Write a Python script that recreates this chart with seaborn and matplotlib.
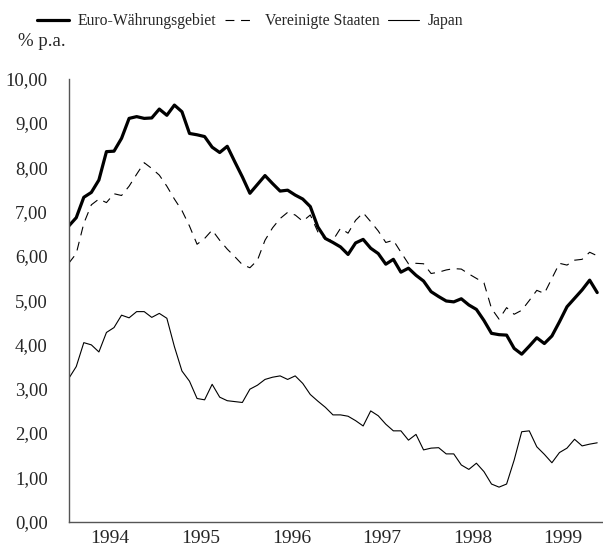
import numpy as np
import pandas as pd
import seaborn as sns
import matplotlib.pyplot as plt

# Monatswerte Jan 1994 .. Nov 1999, Rendite langfristiger Staatsanleihen in % p.a.
monate = np.arange(71)
euro = [6.67, 6.86, 7.32, 7.43, 7.71, 8.35, 8.36, 8.65, 9.10, 9.14, 9.10, 9.11,
        9.31, 9.17, 9.40, 9.25, 8.76, 8.73, 8.69, 8.45, 8.33, 8.47, 8.12, 7.78,
        7.41, 7.61, 7.81, 7.63, 7.46, 7.48, 7.37, 7.28, 7.11, 6.65, 6.39, 6.30,
        6.20, 6.03, 6.29, 6.37, 6.17, 6.05, 5.81, 5.92, 5.63, 5.72, 5.56, 5.43,
        5.19, 5.08, 4.98, 4.96, 5.03, 4.89, 4.79, 4.54, 4.25, 4.22, 4.21, 3.91,
        3.78, 3.96, 4.15, 4.02, 4.19, 4.51, 4.85, 5.04, 5.23, 5.45, 5.17]
usa = [5.83, 6.05, 6.73, 7.15, 7.28, 7.20, 7.40, 7.36, 7.57, 7.84, 8.10, 7.97,
       7.82, 7.57, 7.28, 7.02, 6.67, 6.26, 6.39, 6.58, 6.35, 6.15, 5.98, 5.80,
       5.73, 5.90, 6.35, 6.63, 6.84, 6.98, 6.92, 6.78, 6.92, 6.54, 6.37, 6.35,
       6.62, 6.51, 6.80, 6.97, 6.77, 6.56, 6.30, 6.35, 6.08, 5.82, 5.83, 5.82,
       5.60, 5.63, 5.68, 5.71, 5.70, 5.59, 5.49, 5.39, 4.81, 4.57, 4.83, 4.68,
       4.77, 4.99, 5.22, 5.15, 5.49, 5.83, 5.79, 5.90, 5.92, 6.08, 6.00]
japan = [3.23, 3.50, 4.04, 3.99, 3.83, 4.27, 4.38, 4.66, 4.60, 4.74, 4.74, 4.61,
         4.70, 4.59, 3.95, 3.40, 3.17, 2.78, 2.75, 3.10, 2.81, 2.73, 2.71, 2.69,
         2.99, 3.08, 3.21, 3.26, 3.29, 3.21, 3.29, 3.12, 2.87, 2.72, 2.58, 2.41,
         2.41, 2.38, 2.28, 2.16, 2.50, 2.39, 2.20, 2.05, 2.05, 1.84, 1.97, 1.62,
         1.66, 1.67, 1.53, 1.53, 1.28, 1.18, 1.32, 1.13, 0.85, 0.78, 0.85, 1.39,
         2.03, 2.05, 1.69, 1.52, 1.33, 1.56, 1.66, 1.86, 1.71, 1.75, 1.78]

namen = ['Euro-Währungsgebiet', 'Vereinigte Staaten', 'Japan']
jahre = ['1994', '1995', '1996', '1997', '1998', '1999']
y_werte = list(range(11))
y_labels = ['0,00', '1,00', '2,00', '3,00', '4,00', '5,00',
            '6,00', '7,00', '8,00', '9,00', '10,00']

sns.set_style('white')
plt.rcParams['font.family'] = ['Liberation Serif', 'DejaVu Serif']
plt.rcParams['font.size'] = 12.5

fig = plt.figure(figsize=(6.03, 5.47), dpi=100)
ax = fig.add_axes([68.7 / 603, 25.3 / 547, (603 - 68.7) / 603, 443.2 / 547])

df = pd.DataFrame({'monat': monate, 'euro': euro, 'usa': usa, 'japan': japan})
sns.lineplot(data=df, x='monat', y='euro', ax=ax, color='black', lw=2.3,
             label=namen[0])
sns.lineplot(data=df, x='monat', y='usa', ax=ax, color='black', lw=0.8,
             label=namen[1], linestyle=(0, (8, 6)))
sns.lineplot(data=df, x='monat', y='japan', ax=ax, color='black', lw=0.8,
             label=namen[2])

ax.set_xlim(0, (603 - 68.7) / 7.55)
ax.set_ylim(0, 10)
ax.set_xlabel('')
ax.set_ylabel('')

# Jahresstriche an den Jahresgrenzen, Beschriftung in der Mitte
ax.set_xticks([12, 24, 36, 48, 60])
ax.set_xticklabels([])
ax.set_xticks([5.5 + 12 * k for k in range(len(jahre))], minor=True)
ax.set_xticklabels(jahre, minor=True)
ax.tick_params(axis='x', which='major', direction='in', length=4, width=0.8,
               color='#555555')
ax.tick_params(axis='x', which='minor', length=0, pad=6, labelsize=14)

ax.set_yticks(y_werte)
ax.set_yticklabels(y_labels)
ax.tick_params(axis='y', direction='in', length=4, width=0.8, color='#555555',
               pad=15, labelsize=13.5)

sns.despine(ax=ax)
for s in ['left', 'bottom']:
    ax.spines[s].set_color('#555555')
    ax.spines[s].set_linewidth(1.0)

ax.get_legend().remove()
fig.legend(handles=ax.get_lines()[:3], labels=namen, loc='upper left',
           bbox_to_anchor=(31 / 603, 1 - 7 / 547), ncol=3, frameon=False,
           handlelength=2.0, handletextpad=0.55, columnspacing=0.55,
           fontsize=11.3, borderaxespad=0)

fig.text(18 / 603, 1 - 42 / 547, '% p.a.', fontsize=13.5, va='center')

fig.savefig('out.png', dpi=100)
